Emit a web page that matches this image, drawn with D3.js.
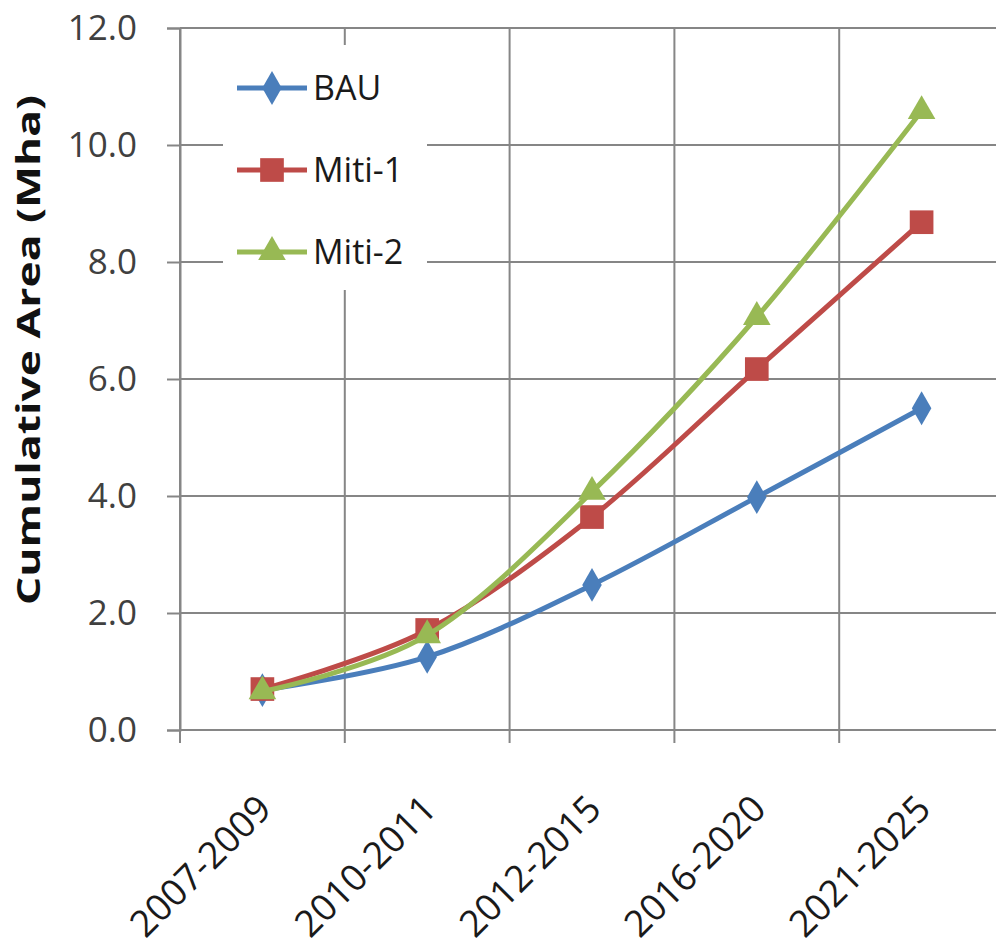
<!DOCTYPE html>
<html>
<head>
<meta charset="utf-8">
<script src="https://cdn.jsdelivr.net/npm/d3@7"></script>
<style>
  body { margin: 0; background: #fff; }
  svg { display: block; }
</style>
</head>
<body>
<script>
// Periods on the x axis
const periods = ["2007-2009", "2010-2011", "2012-2015", "2016-2020", "2021-2025"];

// Cumulative area (Mha) for each scenario
const bauValues = [0.68, 1.25, 2.48, 3.98, 5.50];
const miti1Values = [0.70, 1.71, 3.64, 6.17, 8.68];
const miti2Values = [0.66, 1.62, 4.07, 7.06, 10.58];

const seriesNames = ["BAU", "Miti-1", "Miti-2"];
const seriesColors = ["#4a7ebb", "#be4b48", "#98b954"];
const seriesMarkers = ["diamond", "square", "triangle"];

const yTicks = [0, 2, 4, 6, 8, 10, 12];

const series = seriesNames.map((name, i) => ({
    name: name,
    color: seriesColors[i],
    marker: seriesMarkers[i],
    values: [bauValues, miti1Values, miti2Values][i]
}));

const outerWidth = 996;
const outerHeight = 949;
const margin = { top: 28, left: 180, bottom: 219 };
const plotWidth = 824;  // the last band runs past the right edge, like the original
const plotHeight = outerHeight - margin.top - margin.bottom;

const svg = d3.select("body").append("svg")
    .attr("width", outerWidth)
    .attr("height", outerHeight);

const x = d3.scaleBand()
    .domain(periods)
    .range([margin.left, margin.left + plotWidth]);

const y = d3.scaleLinear()
    .domain([0, 12])
    .range([margin.top + plotHeight, margin.top]);

const gridColor = "#868686";
const fontFamily = "'Open Sans', 'DejaVu Sans', sans-serif";

// Horizontal gridlines
svg.append("g")
    .selectAll("line")
    .data(yTicks)
    .join("line")
    .attr("x1", margin.left)
    .attr("x2", outerWidth)
    .attr("y1", d => y(d))
    .attr("y2", d => y(d))
    .attr("stroke", gridColor)
    .attr("stroke-width", 2);

// Vertical gridlines at the band edges
const edges = periods.map(p => x(p)).concat([x(periods[periods.length - 1]) + x.bandwidth()]);
svg.append("g")
    .selectAll("line")
    .data(edges)
    .join("line")
    .attr("x1", d => d)
    .attr("x2", d => d)
    .attr("y1", margin.top)
    .attr("y2", margin.top + plotHeight + 13)
    .attr("stroke", gridColor)
    .attr("stroke-width", 2);

// Y axis
const yAxis = svg.append("g")
    .attr("transform", `translate(${margin.left},0)`)
    .call(d3.axisLeft(y).tickValues(yTicks).tickFormat(d3.format(".1f")).tickSize(13).tickPadding(30));

yAxis.select(".domain").attr("stroke", gridColor).attr("stroke-width", 2);
yAxis.selectAll(".tick line").attr("stroke", gridColor).attr("stroke-width", 2);
yAxis.selectAll(".tick text")
    .attr("fill", "#404040")
    .style("font-family", fontFamily)
    .style("font-size", "35px");

// X tick labels, rotated
svg.append("g")
    .selectAll("text")
    .data(periods)
    .join("text")
    .attr("transform", d => `translate(${x(d) + x.bandwidth() / 2 + 2},${margin.top + plotHeight + 72}) rotate(-45)`)
    .attr("text-anchor", "end")
    .attr("dy", "0.35em")
    .attr("fill", "#1a1a1a")
    .style("font-family", fontFamily)
    .style("font-size", "37px")
    .text(d => d);

// Y axis title
svg.append("text")
    .attr("transform", `translate(28,350) rotate(-90)`)
    .attr("text-anchor", "middle")
    .attr("dy", "0.35em")
    .attr("fill", "#111")
    .attr("textLength", 510)
    .attr("lengthAdjust", "spacingAndGlyphs")
    .style("font-family", fontFamily)
    .style("font-weight", "bold")
    .style("font-size", "33px")
    .text("Cumulative Area (Mha)");

// Lines, smoothed like the spreadsheet original
const line = d3.line()
    .x((d, i) => x(periods[i]) + x.bandwidth() / 2)
    .y(d => y(d))
    .curve(d3.curveCardinal.tension(0));

const symbolFor = {
    diamond: d3.symbol().type(d3.symbolDiamond).size(330),
    square: d3.symbol().type(d3.symbolSquare).size(560),
    triangle: d3.symbol().type(d3.symbolTriangle).size(330)
};

const seriesG = svg.append("g")
    .selectAll("g")
    .data(series)
    .join("g");

seriesG.append("path")
    .attr("d", d => line(d.values))
    .attr("fill", "none")
    .attr("stroke", d => d.color)
    .attr("stroke-width", 5)
    .attr("stroke-linejoin", "round");

seriesG.each(function (s) {
    d3.select(this).selectAll("path.marker")
        .data(s.values)
        .join("path")
        .attr("class", "marker")
        .attr("transform", (d, i) => `translate(${x(periods[i]) + x.bandwidth() / 2},${y(d)})`)
        .attr("d", symbolFor[s.marker]())
        .attr("fill", s.color);
});

// Legend with a white box over the grid
const legend = svg.append("g");

legend.append("rect")
    .attr("x", 223)
    .attr("y", 45)
    .attr("width", 204)
    .attr("height", 245)
    .attr("fill", "#fff");

const legendItems = legend.selectAll(".legend-item")
    .data(series)
    .join("g")
    .attr("class", "legend-item")
    .attr("transform", (d, i) => `translate(237,${88 + i * 82})`);

legendItems.append("line")
    .attr("x1", 0)
    .attr("x2", 70)
    .attr("stroke", d => d.color)
    .attr("stroke-width", 5);

legendItems.append("path")
    .attr("transform", "translate(35,0)")
    .attr("d", d => symbolFor[d.marker]())
    .attr("fill", d => d.color);

legendItems.append("text")
    .attr("x", 76)
    .attr("dy", "0.35em")
    .attr("fill", "#1a1a1a")
    .style("font-family", fontFamily)
    .style("font-size", "34px")
    .text(d => d.name);
</script>
</body>
</html>
